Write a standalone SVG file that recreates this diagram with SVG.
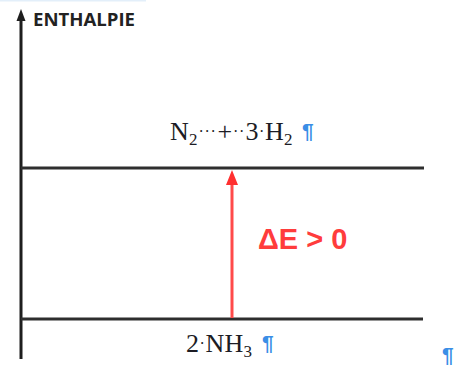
<svg xmlns="http://www.w3.org/2000/svg" width="462" height="366" viewBox="0 0 462 366">
<style>
.axis{stroke:#1e1e1e;stroke-width:3;fill:none}
.level{stroke:#2e2e2e;stroke-width:3.2;fill:none}
.chem{font-family:"Liberation Serif","Times New Roman",serif;font-size:26px;fill:#1c1c24}
.sub{font-size:17px}
.dot{font-size:16px}
.pil{font-family:"Liberation Sans",Arial,sans-serif;font-weight:bold;font-size:21px;fill:#3a8ee6}
.lbl{font-family:"Open Sans","Liberation Sans",sans-serif;font-weight:bold;font-size:17px;fill:#222}
.de{font-family:"Liberation Sans",Arial,sans-serif;font-weight:bold;font-size:29px;fill:#ff3c3c}
</style>
<rect x="0" y="0" width="146" height="1.5" fill="#e3effa"/>
<g id="axis">
<line class="axis" x1="21" y1="19" x2="21" y2="359"/>
<polygon points="21,9 16.5,21 25.5,21" fill="#1e1e1e"/>
<text class="lbl" x="33" y="26" textLength="102" lengthAdjust="spacingAndGlyphs">ENTHALPIE</text>
</g>
<g id="reactants">
<line class="level" x1="21" y1="168" x2="424" y2="168"/>
<text class="chem"><tspan x="170" y="140">N</tspan><tspan class="sub" x="189" y="145">2</tspan><tspan class="dot" x="198.5" y="137">·</tspan><tspan class="dot" x="204.5" y="137">·</tspan><tspan class="dot" x="210.5" y="137">·</tspan><tspan x="217.5" y="140">+</tspan><tspan class="dot" x="233" y="137">·</tspan><tspan class="dot" x="239" y="137">·</tspan><tspan x="245.5" y="140">3</tspan><tspan class="dot" x="259" y="137">·</tspan><tspan x="265" y="140">H</tspan><tspan class="sub" x="284" y="145">2</tspan></text>
<text class="pil" x="302" y="138">¶</text>
</g>
<g id="products">
<line class="level" x1="21" y1="319" x2="423" y2="319"/>
<text class="chem"><tspan x="186" y="352">2</tspan><tspan class="dot" x="199.5" y="349">·</tspan><tspan x="205.5" y="352">N</tspan><tspan x="224.5" y="352">H</tspan><tspan class="sub" x="243.5" y="357">3</tspan></text>
<text class="pil" x="262" y="350">¶</text>
</g>
<g id="connectors">
<line x1="232" y1="318" x2="232" y2="182" stroke="#ff4a4a" stroke-width="3"/>
<polygon points="232,170 226,185 238,185" fill="#ff3030"/>
</g>
<text class="de" x="258" y="249">ΔE &gt; 0</text>
<text class="pil" x="442" y="362">¶</text>
</svg>
